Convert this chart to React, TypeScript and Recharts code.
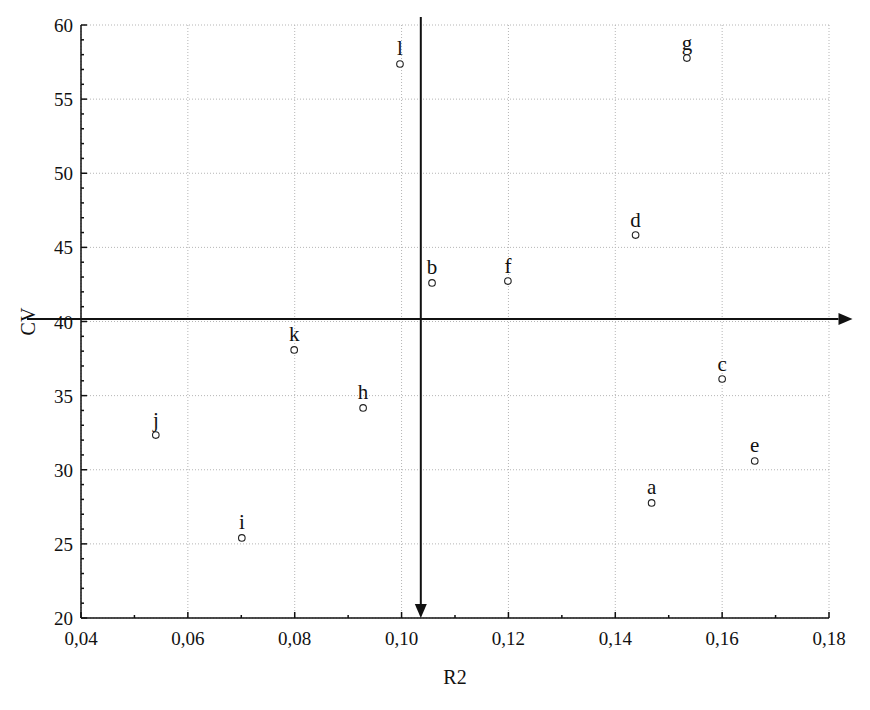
import { CartesianGrid, LabelList, ReferenceLine, Scatter, ScatterChart, XAxis, YAxis } from "recharts";

const names = ["a", "b", "c", "d", "e", "f", "g", "h", "i", "j", "k", "l"];
const r2Values = [0.1468, 0.1057, 0.16, 0.1438, 0.1661, 0.1199, 0.1534, 0.0928, 0.0701, 0.054, 0.0799, 0.0997];
const cvValues = [27.76, 42.6, 36.12, 45.83, 30.59, 42.73, 57.77, 34.17, 25.4, 32.34, 38.08, 57.37];

const xMajorTicks = [0.04, 0.06, 0.08, 0.1, 0.12, 0.14, 0.16, 0.18];
const xMinorTicks = [0.05, 0.07, 0.09, 0.11, 0.13, 0.15, 0.17];
const yMajorTicks = [20, 25, 30, 35, 40, 45, 50, 55, 60];
const yMinorTicks = Array.from({ length: 41 }, (_, i) => 20 + i).filter((v) => v % 5 !== 0);

// the two dividing arrows (mean R2 / mean CV)
const splitR2 = 0.1036;
const splitCV = 40.17;
const arrowR2From = 0.0299;
const arrowR2To = 0.1844;
const arrowCVFrom = 60.54;

const xTicks = [...xMajorTicks, ...xMinorTicks].sort((a, b) => a - b);
const yTicks = [...yMajorTicks, ...yMinorTicks].sort((a, b) => a - b);

const points = names.map((name, i) => ({ name, r2: r2Values[i], cv: cvValues[i] }));

const FONT = "'Liberation Serif', 'Times New Roman', serif";
const INK = "#111";
const textStyle = { fontFamily: FONT, fontSize: 19 };

const isMajorX = (v: number) => xMajorTicks.some((t) => Math.abs(t - v) < 1e-6);
const isMajorY = (v: number) => v % 5 === 0;
const fmt = (v: number) => v.toFixed(2).replace(".", ",");

function BottomTick(p: any) {
  const major = isMajorX(p.payload.value);
  return (
    <g>
      <line x1={p.x} x2={p.x} y1={p.y} y2={p.y - (major ? 6 : 3)} stroke={INK} strokeWidth={1.5} />
      {major && (
        <text x={p.x} y={p.y + 27} textAnchor="middle" style={textStyle} fill={INK}>
          {fmt(p.payload.value)}
        </text>
      )}
    </g>
  );
}

function TopTick(p: any) {
  const major = isMajorX(p.payload.value);
  return <line x1={p.x} x2={p.x} y1={p.y} y2={p.y + (major ? 6 : 3)} stroke={INK} strokeWidth={1.5} />;
}

function LeftTick(p: any) {
  const major = isMajorY(p.payload.value);
  return (
    <g>
      <line x1={p.x} x2={p.x + (major ? 6 : 3)} y1={p.y} y2={p.y} stroke={INK} strokeWidth={1.5} />
      {major && (
        <text x={p.x - 8} y={p.y + 7} textAnchor="end" style={textStyle} fill={INK}>
          {p.payload.value}
        </text>
      )}
    </g>
  );
}

function RightTick(p: any) {
  const major = isMajorY(p.payload.value);
  return <line x1={p.x} x2={p.x - (major ? 6 : 3)} y1={p.y} y2={p.y} stroke={INK} strokeWidth={1.5} />;
}

function Arrow(p: any) {
  const { x1, y1, x2, y2 } = p;
  const len = Math.hypot(x2 - x1, y2 - y1) || 1;
  const ux = (x2 - x1) / len;
  const uy = (y2 - y1) / len;
  const head = 14;
  const half = 6;
  const bx = x2 - ux * head;
  const by = y2 - uy * head;
  return (
    <g>
      <line x1={x1} y1={y1} x2={bx} y2={by} stroke={INK} strokeWidth={2} />
      <polygon
        points={`${x2},${y2} ${bx - uy * half},${by + ux * half} ${bx + uy * half},${by - ux * half}`}
        fill={INK}
      />
    </g>
  );
}

function Marker(p: any) {
  return <circle cx={p.cx} cy={p.cy} r={3.3} fill="#fff" stroke="#222" strokeWidth={1.1} />;
}

export default function App() {
  return (
    <div style={{ position: "absolute", left: 0, top: 0, background: "#fff" }}>
      <ScatterChart width={870} height={710} margin={{ top: 25, right: 41, bottom: 22, left: 21 }}>
        <CartesianGrid
          xAxisId="x"
          yAxisId="y"
          horizontalValues={yMajorTicks}
          verticalValues={xMajorTicks}
          stroke="#b5b5b5"
          strokeDasharray="1 2"
        />
        <XAxis
          xAxisId="x"
          dataKey="r2"
          type="number"
          domain={[0.04, 0.18]}
          allowDataOverflow
          ticks={xTicks}
          interval={0}
          tickSize={0}
          tickMargin={0}
          tickLine={false}
          tick={<BottomTick />}
          height={70}
          axisLine={{ stroke: INK, strokeWidth: 1.5 }}
          label={{ value: "R2", position: "insideBottom", offset: 4, fontFamily: FONT, fontSize: 20, fill: INK }}
        />
        <XAxis
          xAxisId="top"
          orientation="top"
          type="number"
          domain={[0.04, 0.18]}
          allowDataOverflow
          ticks={xTicks}
          interval={0}
          tickSize={0}
          tickMargin={0}
          tickLine={false}
          tick={<TopTick />}
          height={0}
          axisLine={{ stroke: INK, strokeWidth: 1.5 }}
        />
        <YAxis
          yAxisId="y"
          dataKey="cv"
          type="number"
          domain={[20, 60]}
          allowDataOverflow
          ticks={yTicks}
          interval={0}
          tickSize={0}
          tickMargin={0}
          tickLine={false}
          tick={<LeftTick />}
          width={60}
          axisLine={{ stroke: INK, strokeWidth: 1.5 }}
          label={{
            value: "CV",
            angle: -90,
            position: "insideLeft",
            offset: 7,
            fontFamily: FONT,
            fontSize: 20,
            fill: INK,
            style: { textAnchor: "middle" },
          }}
        />
        <YAxis
          yAxisId="right"
          orientation="right"
          type="number"
          domain={[20, 60]}
          allowDataOverflow
          ticks={yTicks}
          interval={0}
          tickSize={0}
          tickMargin={0}
          tickLine={false}
          tick={<RightTick />}
          width={0}
          axisLine={{ stroke: INK, strokeWidth: 1.5 }}
        />
        <Scatter xAxisId="x" yAxisId="y" data={points} shape={Marker} isAnimationActive={false}>
          <LabelList dataKey="name" position="top" offset={4} fontFamily={FONT} fontSize={21} fill={INK} />
        </Scatter>
        <ReferenceLine
          xAxisId="x"
          yAxisId="y"
          ifOverflow="visible"
          segment={[
            { x: splitR2, y: arrowCVFrom },
            { x: splitR2, y: 20 },
          ]}
          shape={Arrow}
        />
        <ReferenceLine
          xAxisId="x"
          yAxisId="y"
          ifOverflow="visible"
          segment={[
            { x: arrowR2From, y: splitCV },
            { x: arrowR2To, y: splitCV },
          ]}
          shape={Arrow}
        />
      </ScatterChart>
    </div>
  );
}
